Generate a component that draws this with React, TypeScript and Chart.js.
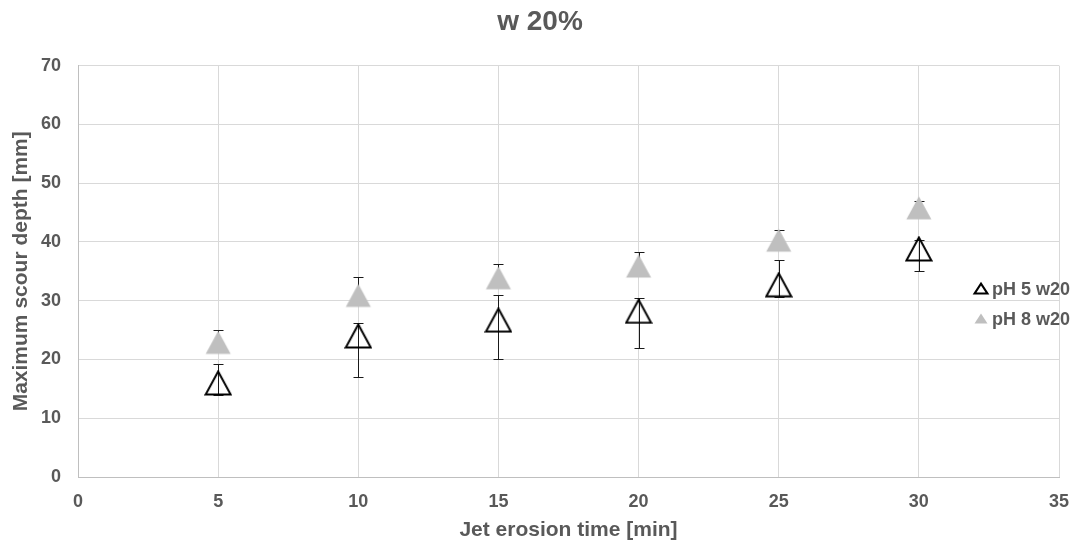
import React, { useEffect, useRef } from 'react';
import { Chart, registerables } from 'chart.js';

Chart.register(...registerables);

// ---- data ----
const chartTitle = 'w 20%';
const xAxisTitle = 'Jet erosion time [min]';
const yAxisTitle = 'Maximum scour depth [mm]';

const times = [5, 10, 15, 20, 25, 30];

const ph5Label = 'pH 5 w20';
const ph5Values = [16, 24, 26.7, 28.2, 32.7, 38.8];
const ph5ErrPlus = [3.2, 2.2, 4.2, 2.2, 4.3, 1.5];
const ph5ErrMinus = [2, 7, 6.7, 6.3, 2, 3.8];

const ph8Label = 'pH 8 w20';
const ph8Values = [22.9, 30.9, 33.9, 35.9, 40.3, 45.8];
const ph8ErrPlus = [2.1, 3.2, 2.3, 2.3, 1.7, 1.2];
const ph8ErrMinus = [1, 1, 1, 1, 1, 1];

const xMin = 0, xMax = 35, xStep = 5;
const yMin = 0, yMax = 70, yStep = 10;

const FONT = "'Liberation Sans', Arial, sans-serif";
const TEXT = '#595959';
const GRID = '#D9D9D9';
const GRAY_MARK = '#BFBFBF';

function makeTriangle(filled: boolean): HTMLCanvasElement {
  const c = document.createElement('canvas');
  c.width = 28;
  c.height = 26;
  const g = c.getContext('2d')!;
  g.beginPath();
  g.moveTo(14, 1.5);
  g.lineTo(26.5, 24.5);
  g.lineTo(1.5, 24.5);
  g.closePath();
  if (filled) {
    g.fillStyle = GRAY_MARK;
    g.fill();
  } else {
    g.strokeStyle = '#000';
    g.lineWidth = 2;
    g.lineJoin = 'miter';
    g.stroke();
  }
  return c;
}

const errorMap: Record<number, { plus: number[]; minus: number[] }> = {
  0: { plus: ph5ErrPlus, minus: ph5ErrMinus },
  1: { plus: ph8ErrPlus, minus: ph8ErrMinus },
};

const errorBarPlugin = {
  id: 'errorBars',
  beforeDatasetsDraw(chart: any) {
    const { ctx } = chart;
    const xs = chart.scales.x;
    const ys = chart.scales.y;
    ctx.save();
    ctx.strokeStyle = '#1a1a1a';
    ctx.lineWidth = 1;
    chart.data.datasets.forEach((ds: any, di: number) => {
      const err = errorMap[di];
      if (!err) return;
      ds.data.forEach((p: any, i: number) => {
        const px = Math.round(xs.getPixelForValue(p.x)) + 0.5;
        const top = Math.round(ys.getPixelForValue(p.y + err.plus[i])) + 0.5;
        const bot = Math.round(ys.getPixelForValue(p.y - err.minus[i])) + 0.5;
        ctx.beginPath();
        ctx.moveTo(px, top);
        ctx.lineTo(px, bot);
        ctx.moveTo(px - 5, top);
        ctx.lineTo(px + 5, top);
        ctx.moveTo(px - 5, bot);
        ctx.lineTo(px + 5, bot);
        ctx.stroke();
      });
    });
    ctx.restore();
  },
};

const legendPlugin = {
  id: 'customLegend',
  afterDraw(chart: any) {
    const { ctx, chartArea } = chart;
    const mx = chartArea.right - 78;
    const tx = chartArea.right - 67;
    const rows = [
      { label: ph5Label, filled: false, y: chartArea.top + 223 },
      { label: ph8Label, filled: true, y: chartArea.top + 253 },
    ];
    ctx.save();
    rows.forEach((r) => {
      ctx.beginPath();
      ctx.moveTo(mx, r.y - 5);
      ctx.lineTo(mx + 6.5, r.y + 5);
      ctx.lineTo(mx - 6.5, r.y + 5);
      ctx.closePath();
      if (r.filled) {
        ctx.fillStyle = GRAY_MARK;
        ctx.fill();
      } else {
        ctx.strokeStyle = '#000';
        ctx.lineWidth = 2;
        ctx.stroke();
      }
      ctx.fillStyle = TEXT;
      ctx.font = `bold 18px ${FONT}`;
      ctx.textBaseline = 'middle';
      ctx.textAlign = 'left';
      ctx.fillText(r.label, tx, r.y + 1);
    });
    ctx.restore();
  },
};

export default function App() {
  const ref = useRef<HTMLCanvasElement | null>(null);

  useEffect(() => {
    document.body.style.margin = '0';
    const canvas = ref.current;
    if (!canvas) return;
    const openTri = makeTriangle(false);
    const grayTri = makeTriangle(true);

    const chart = new Chart(canvas, {
      type: 'scatter',
      data: {
        datasets: [
          {
            label: ph5Label,
            data: times.map((t, i) => ({ x: t, y: ph5Values[i] })),
            pointStyle: openTri as any,
            showLine: false,
          },
          {
            label: ph8Label,
            data: times.map((t, i) => ({ x: t, y: ph8Values[i] })),
            pointStyle: grayTri as any,
            showLine: false,
          },
        ],
      },
      options: {
        animation: false,
        responsive: true,
        maintainAspectRatio: false,
        layout: { padding: { left: 0, right: 0, top: 0, bottom: 0 } },
        plugins: {
          legend: { display: false },
          tooltip: { enabled: false },
          title: {
            display: true,
            text: chartTitle,
            color: TEXT,
            font: { family: FONT, size: 28, weight: 'bold' },
            padding: { top: 5, bottom: 27 },
          },
        },
        scales: {
          x: {
            type: 'linear',
            min: xMin,
            max: xMax,
            ticks: {
              stepSize: xStep,
              color: TEXT,
              font: { family: FONT, size: 18, weight: 'bold' },
              padding: 14,
            },
            grid: { color: GRID, lineWidth: 1, drawTicks: false },
            border: { color: GRAY_MARK, width: 1 },
            title: {
              display: true,
              text: xAxisTitle,
              color: TEXT,
              font: { family: FONT, size: 21, weight: 'bold' },
              padding: { top: 0, bottom: 3 },
            },
            afterFit: (s: any) => {
              s.height = 69;
              s.paddingLeft = 0;
              s.paddingRight = 21;
            },
          },
          y: {
            type: 'linear',
            min: yMin,
            max: yMax,
            ticks: {
              stepSize: yStep,
              color: TEXT,
              font: { family: FONT, size: 18, weight: 'bold' },
              padding: 17,
            },
            grid: { color: GRID, lineWidth: 1, drawTicks: false },
            border: { color: GRAY_MARK, width: 1 },
            title: {
              display: true,
              text: yAxisTitle,
              color: TEXT,
              font: { family: FONT, size: 21, weight: 'bold' },
              padding: { top: 9, bottom: 0 },
            },
            afterFit: (s: any) => {
              s.width = 78;
            },
          },
        },
      },
      plugins: [errorBarPlugin, legendPlugin],
    });
    return () => chart.destroy();
  }, []);

  return (
    <div style={{ width: 1080, height: 546, position: 'relative' }}>
      <canvas ref={ref} />
    </div>
  );
}
